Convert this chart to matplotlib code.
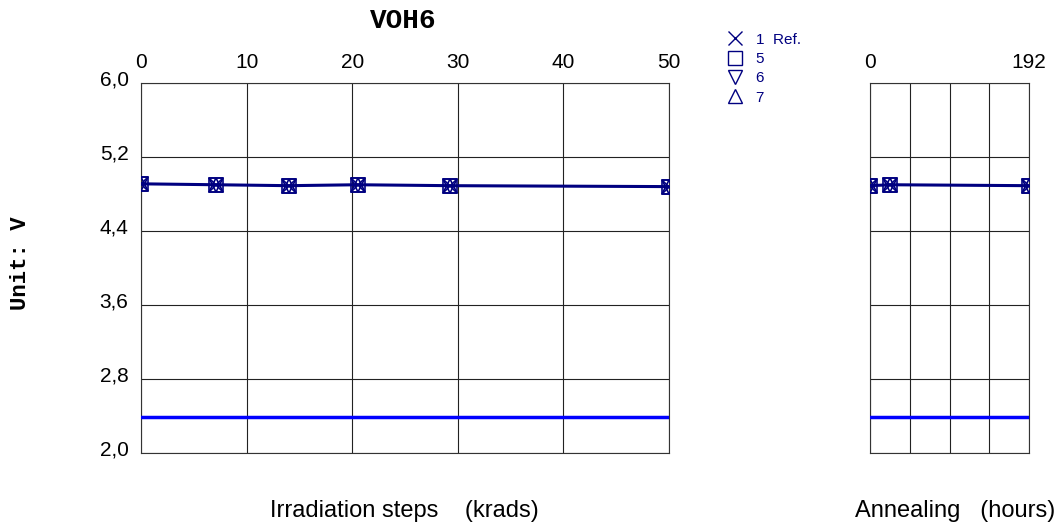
import numpy as np
import matplotlib
matplotlib.use("Agg")
import matplotlib.pyplot as plt
import matplotlib.transforms as mtransforms

plt.rcParams['font.family'] = ['Liberation Sans', 'DejaVu Sans']

# Irradiation steps (krads) and measured VOH6 (V)
irr_steps = [0, 7.1, 14.0, 20.5, 29.3, 50]
irr_vals = [4.91, 4.90, 4.89, 4.90, 4.89, 4.88]

# Annealing (hours)
ann_steps = [0, 24, 192]
ann_vals = [4.89, 4.90, 4.89]

limit = 2.39  # spec limit line

samples = ['1  Ref.', '5', '6', '7']
markers = ['x', 's', 'v', '^']
navy = '#000080'

yticks = [2.0, 2.8, 3.6, 4.4, 5.2, 6.0]
yticklabels = ['2,0', '2,8', '3,6', '4,4', '5,2', '6,0']

fig = plt.figure(figsize=(10.61, 5.24), dpi=100)
ax1 = fig.add_axes([0.1329, 0.1355, 0.4977, 0.7061])
ax2 = fig.add_axes([0.8200, 0.1355, 0.1499, 0.7061])

for ax, xs, ys, xlim, xt in [(ax1, irr_steps, irr_vals, (0, 50), [0, 10, 20, 30, 40, 50]),
                              (ax2, ann_steps, ann_vals, (0, 192), [0, 48, 96, 144, 192])]:
    ax.plot(xs, ys, color=navy, lw=2.2, zorder=3)
    for m in markers:
        ax.plot(xs, ys, linestyle='none', marker=m, ms=9.5, mfc='none',
                mec=navy, mew=1.2, zorder=4)
    ax.axhline(limit, color='#0000ff', lw=2.5, zorder=3)
    ax.set_xlim(*xlim)
    ax.set_ylim(2.0, 6.0)
    ax.set_xticks(xt)
    ax.set_yticks(yticks)
    ax.grid(True, color='#222222', lw=0.8)
    ax.xaxis.tick_top()
    ax.tick_params(length=0, labelsize=15)
    ax.tick_params(axis='x', pad=8)
    ax.tick_params(axis='y', pad=9)
    for s in ax.spines.values():
        s.set_color('#333333')
        s.set_linewidth(0.8)

ax1.set_yticklabels(yticklabels)
up = mtransforms.ScaledTranslation(0, 5 / 100, fig.dpi_scale_trans)
for lab in ax1.get_yticklabels():
    lab.set_transform(lab.get_transform() + up)
ax2.set_yticklabels([])
ax2.set_xticks([0, 192])
ax2.set_xticks([48, 96, 144], minor=True)
ax2.grid(True, which='minor', axis='x', color='#222222', lw=0.8)
ax2.tick_params(which='minor', length=0)

fig.text(0.3803, 0.96, 'VOH6', ha='center', va='center', fontsize=20,
         fontweight='bold', family='Liberation Mono')
fig.text(0.019, 0.497, 'Unit: V', ha='center', va='center', rotation=90,
         fontsize=16, fontweight='bold', family='Liberation Mono')
fig.text(0.3808, 0.014, 'Irradiation steps    (krads)', ha='center', va='baseline', fontsize=17)
fig.text(0.900, 0.014, 'Annealing   (hours)', ha='center', va='baseline', fontsize=17)

handles = [plt.Line2D([], [], linestyle='none', marker=m, ms=10, mfc='none',
                      mec=navy, mew=1) for m in markers]
leg = fig.legend(handles, samples, loc='upper left', bbox_to_anchor=(0.6744, 0.952),
                 frameon=False, fontsize=11, handletextpad=0.62, labelspacing=0.35,
                 handlelength=1.5, borderpad=0)
for t in leg.get_texts():
    t.set_color(navy)

fig.savefig('out.png', dpi=100)
